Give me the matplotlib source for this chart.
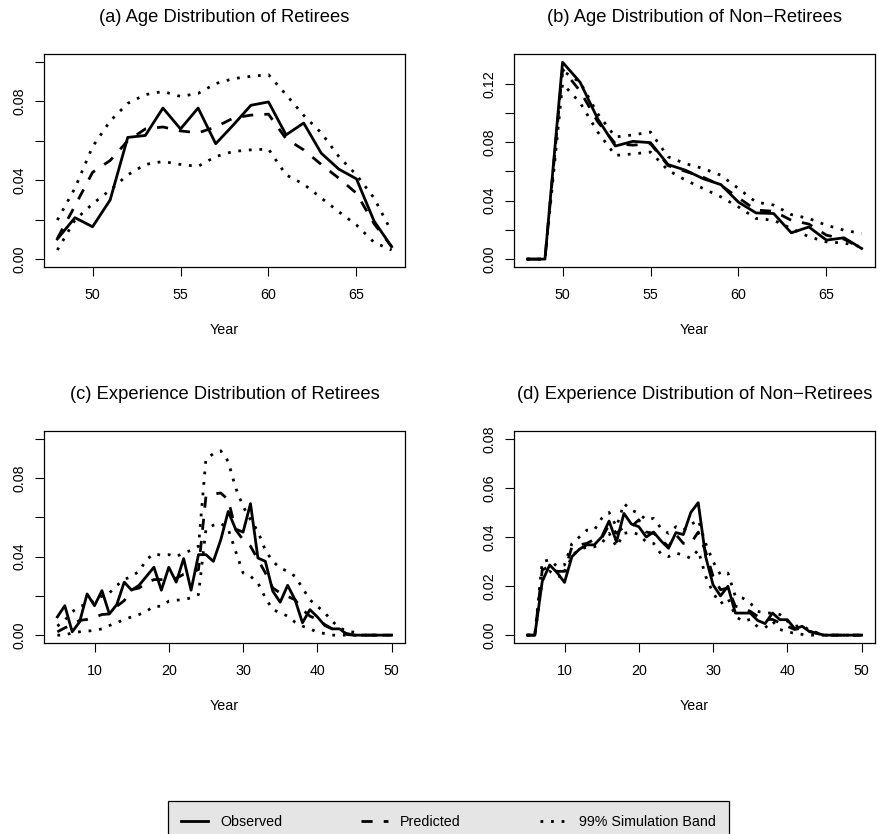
import matplotlib
matplotlib.use("Agg")
import matplotlib.pyplot as plt
from matplotlib.lines import Line2D

plt.rcParams['font.family'] = ['Liberation Sans', 'DejaVu Sans']

# ages and years of experience on the x axes
age = list(range(48, 68))
exper = list(range(5, 51))

# (a) age distribution of retirees
a_obs = [0.0102, 0.021, 0.0164, 0.030, 0.0617, 0.0627, 0.0766, 0.066, 0.0766, 0.0585,
         0.068, 0.078, 0.0797, 0.063, 0.069, 0.0537, 0.0456, 0.0407, 0.0193, 0.0063]
a_pred = [0.0105, 0.027, 0.044, 0.050, 0.060, 0.066, 0.067, 0.065, 0.064, 0.067,
          0.0715, 0.073, 0.0735, 0.061, 0.0554, 0.048, 0.041, 0.0334, 0.018, 0.0063]
a_hi = [0.0198, 0.036, 0.057, 0.070, 0.079, 0.0834, 0.085, 0.0825, 0.084, 0.089,
        0.0915, 0.0927, 0.0935, 0.0834, 0.0729, 0.064, 0.052, 0.0427, 0.031, 0.0139]
a_lo = [0.0046, 0.0198, 0.028, 0.035, 0.0427, 0.048, 0.0495, 0.048, 0.047, 0.052,
        0.0546, 0.0554, 0.0558, 0.0427, 0.038, 0.031, 0.024, 0.0173, 0.0085, 0.0046]

# (b) age distribution of non-retirees
b_obs = [0.0, 0.0, 0.1348, 0.121, 0.096, 0.0774, 0.0806, 0.0797, 0.0647, 0.0608,
         0.055, 0.051, 0.039, 0.0316, 0.0312, 0.018, 0.022, 0.013, 0.0146, 0.0073]
b_pred = [0.0, 0.0, 0.130, 0.115, 0.094, 0.079, 0.078, 0.079, 0.064, 0.060,
          0.056, 0.0505, 0.042, 0.0335, 0.0328, 0.0266, 0.024, 0.0164, 0.0137, 0.0073]
b_hi = [0.0, 0.0, 0.129, 0.121, 0.0995, 0.0836, 0.085, 0.087, 0.070, 0.0653,
        0.062, 0.0574, 0.0483, 0.039, 0.037, 0.0305, 0.0278, 0.0232, 0.0198, 0.0175]
b_lo = [0.0, 0.0, 0.120, 0.107, 0.087, 0.071, 0.072, 0.0733, 0.0608, 0.054,
        0.0483, 0.0426, 0.0357, 0.0278, 0.0266, 0.021, 0.0153, 0.0118, 0.011, 0.0084]

# (c) experience distribution of retirees
c_obs = [0.0093, 0.015, 0.0017, 0.0068, 0.021, 0.015, 0.0227, 0.0108, 0.0156, 0.027,
         0.0229, 0.0254, 0.030, 0.0346, 0.0229, 0.0346, 0.027, 0.039, 0.0229, 0.041,
         0.041, 0.0376, 0.0486, 0.063, 0.054, 0.0525, 0.067, 0.0393, 0.0376, 0.0224,
         0.0168, 0.0254, 0.018, 0.0063, 0.013, 0.0093, 0.0049, 0.0032, 0.0032, 0.0003,
         0.0, 0.0, 0.0, 0.0, 0.0, 0.0]
c_pred = [0.0017, 0.0037, 0.0054, 0.0075, 0.008, 0.0091, 0.0105, 0.0108, 0.0147, 0.0176,
          0.0232, 0.024, 0.0266, 0.0283, 0.0283, 0.0288, 0.029, 0.031, 0.032, 0.0334,
          0.0707, 0.0719, 0.0724, 0.069, 0.0537, 0.0486, 0.0453, 0.0385, 0.0317, 0.024,
          0.0215, 0.0198, 0.018, 0.013, 0.0097, 0.008, 0.0054, 0.0032, 0.002, 0.0008,
          0.0, 0.0, 0.0, 0.0, 0.0, 0.0]
c_hi = [0.0046, 0.0076, 0.0119, 0.0147, 0.0156, 0.0178, 0.0198, 0.0215, 0.0253, 0.0283,
        0.030, 0.0325, 0.0385, 0.0415, 0.0407, 0.041, 0.040, 0.0419, 0.0432, 0.0453,
        0.0898, 0.0924, 0.0939, 0.0885, 0.075, 0.0656, 0.0588, 0.0529, 0.0432, 0.0376,
        0.0342, 0.0325, 0.030, 0.024, 0.018, 0.0147, 0.0114, 0.0071, 0.0037, 0.002,
        0.0015, 0.0, 0.0, 0.0, 0.0, 0.0]
c_lo = [0.0, 0.0, 0.0012, 0.0017, 0.002, 0.0025, 0.0032, 0.0049, 0.0063, 0.008,
        0.0093, 0.0105, 0.0122, 0.0147, 0.0147, 0.0173, 0.0178, 0.0181, 0.019, 0.0207,
        0.054, 0.056, 0.057, 0.054, 0.0427, 0.0317, 0.030, 0.0266, 0.019, 0.013,
        0.0114, 0.0097, 0.0066, 0.0046, 0.0032, 0.0015, 0.0008, 0.0, 0.0, 0.0,
        0.0, 0.0, 0.0, 0.0, 0.0, 0.0]

# (d) experience distribution of non-retirees
d_obs = [0.0, 0.0, 0.0219, 0.0286, 0.0255, 0.0215, 0.032, 0.035, 0.0368, 0.0368,
         0.040, 0.0465, 0.038, 0.0496, 0.0453, 0.0442, 0.040, 0.042, 0.0384, 0.0354,
         0.0418, 0.041, 0.050, 0.054, 0.032, 0.0205, 0.016, 0.0199, 0.009, 0.009,
         0.009, 0.006, 0.0047, 0.009, 0.0063, 0.0063, 0.0026, 0.0036, 0.0014, 0.0007,
         0.0, 0.0, 0.0, 0.0, 0.0, 0.0]
d_pred = [0.0, 0.0, 0.0266, 0.028, 0.026, 0.026, 0.036, 0.0368, 0.0374, 0.039,
          0.0395, 0.045, 0.0415, 0.0442, 0.0442, 0.047, 0.042, 0.0415, 0.039, 0.036,
          0.041, 0.0374, 0.0374, 0.042, 0.034, 0.024, 0.0185, 0.0192, 0.0118, 0.011,
          0.0097, 0.0077, 0.0064, 0.0064, 0.005, 0.0036, 0.0023, 0.003, 0.0016, 0.0007,
          0.0, 0.0, 0.0, 0.0, 0.0, 0.0]
d_hi = [0.0, 0.0, 0.030, 0.0307, 0.028, 0.0286, 0.0374, 0.040, 0.0428, 0.0428,
        0.0476, 0.050, 0.0442, 0.0536, 0.051, 0.0496, 0.047, 0.0476, 0.0435, 0.0415,
        0.0442, 0.0428, 0.045, 0.047, 0.0374, 0.030, 0.0246, 0.0253, 0.0158, 0.0151,
        0.0131, 0.0097, 0.009, 0.009, 0.0084, 0.0057, 0.0036, 0.0039, 0.002, 0.001,
        0.0, 0.0, 0.0, 0.0, 0.0, 0.0]
d_lo = [0.0, 0.0, 0.0226, 0.026, 0.024, 0.024, 0.0327, 0.0347, 0.036, 0.036,
        0.0374, 0.0415, 0.036, 0.0415, 0.042, 0.041, 0.038, 0.0374, 0.033, 0.032,
        0.0334, 0.0327, 0.0313, 0.0347, 0.024, 0.0172, 0.0128, 0.0151, 0.0077, 0.0057,
        0.0064, 0.0034, 0.003, 0.0057, 0.0023, 0.0014, 0.0007, 0.0003, 0.0, 0.0,
        0.0, 0.0, 0.0, 0.0, 0.0, 0.0]

titles = ['(a) Age Distribution of Retirees',
          '(b) Age Distribution of Non\u2212Retirees',
          '(c) Experience Distribution of Retirees',
          '(d) Experience Distribution of Non\u2212Retirees']
age_ticks = [50, 55, 60, 65]
exp_ticks = [10, 20, 30, 40, 50]
ytk_a = [0.0, 0.02, 0.04, 0.06, 0.08, 0.10]
ylab_a = ['0.00', '', '0.04', '', '0.08', '']
ytk_b = [0.0, 0.02, 0.04, 0.06, 0.08, 0.10, 0.12]
ylab_b = ['0.00', '', '0.04', '', '0.08', '', '0.12']
ytk_d = [0.0, 0.02, 0.04, 0.06, 0.08]
ylab_d = ['0.00', '0.02', '0.04', '0.06', '0.08']

LW = 2.0
SOLID = dict(color='black', lw=LW, ls='-', solid_joinstyle='round')
DASHED = dict(color='black', lw=LW, ls=(0, (4, 4)), dash_capstyle='butt')
DOTTED = dict(color='black', lw=LW, ls=(0, (1, 2.8)), dash_capstyle='butt')
FS_TICK = 10.3
FS_TITLE = 13.2

W, H = 879, 834
fig = plt.figure(figsize=(W / 100, H / 100), dpi=100)


def box(x0, y0, x1, y1):
    # pixel box (top-left origin) -> figure fraction rect
    return [x0 / W, 1 - y1 / H, (x1 - x0) / W, (y1 - y0) / H]


def panel(rect, x, obs, pred, hi, lo, title, xticks, ylim, yticks, ylabels):
    ax = fig.add_axes(rect)
    ax.plot(x, hi, **DOTTED)
    ax.plot(x, lo, **DOTTED)
    ax.plot(x, pred, **DASHED)
    ax.plot(x, obs, **SOLID)
    xr = x[-1] - x[0]
    ax.set_xlim(x[0] - 0.04 * xr, x[-1] + 0.04 * xr)
    yr = ylim[1] - ylim[0]
    ax.set_ylim(ylim[0] - 0.04 * yr, ylim[1] + 0.04 * yr)
    ax.set_xticks(xticks)
    ax.set_yticks(yticks)
    ax.set_yticklabels(ylabels)
    ax.tick_params(direction='out', length=6.5, width=0.8, labelsize=FS_TICK)
    ax.tick_params(axis='x', pad=8.5)
    ax.tick_params(axis='y', pad=6, labelrotation=90)
    for lab in ax.get_yticklabels():
        lab.set_verticalalignment('center')
    for sp in ax.spines.values():
        sp.set_linewidth(0.9)
    ax.annotate(title, xy=(0.5, 1), xycoords='axes fraction', xytext=(0, 26.6),
                textcoords='offset points', ha='center', va='center', fontsize=FS_TITLE)
    ax.annotate('Year', xy=(0.5, 0), xycoords='axes fraction', xytext=(0, -45.4),
                textcoords='offset points', ha='center', va='center', fontsize=FS_TICK)
    return ax


panel(box(44, 54, 405, 267), age, a_obs, a_pred, a_hi, a_lo, titles[0],
      age_ticks, (0, 0.10), ytk_a, ylab_a)
panel(box(514, 54, 875, 267), age, b_obs, b_pred, b_hi, b_lo, titles[1],
      age_ticks, (0, 0.135), ytk_b, ylab_b)
panel(box(44, 431, 405, 643), exper, c_obs, c_pred, c_hi, c_lo, titles[2],
      exp_ticks, (0, 0.10), ytk_a, ylab_a)
panel(box(514, 431, 875, 643), exper, d_obs, d_pred, d_hi, d_lo, titles[3],
      exp_ticks, (0, 0.08), ytk_d, ylab_d)

handles = [Line2D([], [], **SOLID), Line2D([], [], **DASHED), Line2D([], [], **DOTTED)]
leg = fig.legend(handles, ['Observed', 'Predicted', '99% Simulation Band'],
                 loc='upper center', bbox_to_anchor=(448.5 / W, 1 - 801 / H),
                 ncol=3, fontsize=FS_TICK, handlelength=1.9, handletextpad=0.84,
                 columnspacing=5.5, borderpad=0.95, borderaxespad=0, fancybox=False,
                 facecolor='#e5e5e5', edgecolor='black', framealpha=1)
leg.get_frame().set_linewidth(0.9)

fig.savefig('out.png', dpi=100)
